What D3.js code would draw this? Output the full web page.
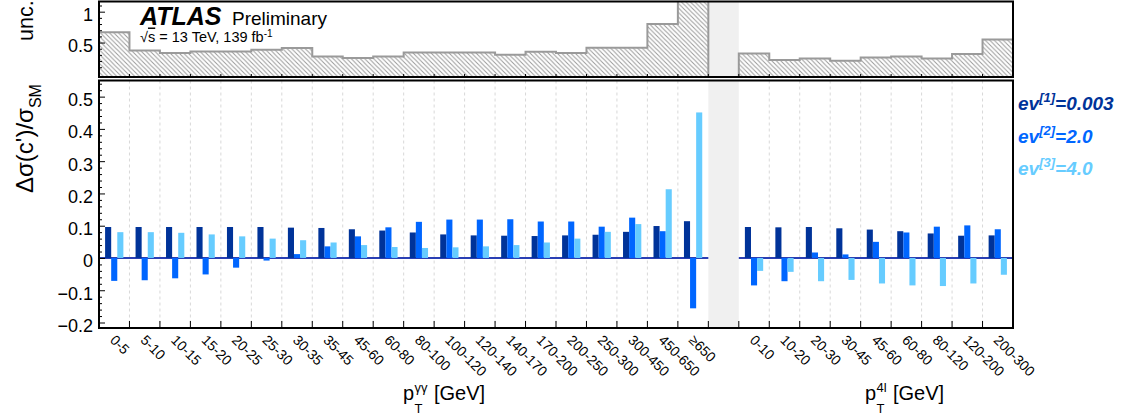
<!DOCTYPE html>
<html>
<head>
<meta charset="utf-8">
<script src="https://cdn.jsdelivr.net/npm/d3@7"></script>
<style>
  html, body { margin: 0; padding: 0; background: #fff; }
  svg { display: block; font-family: "Liberation Sans", Arial, Helvetica, sans-serif; }
</style>
</head>
<body>
<svg id="chart" width="1121" height="419"></svg>
<script>
// ---------------- data ----------------
const ggLabels = ["0-5","5-10","10-15","15-20","20-25","25-30","30-35","35-45","45-60","60-80","80-100","100-120","120-140","140-170","170-200","200-250","250-300","300-450","450-650","≥650"];
const llLabels = ["0-10","10-20","20-30","30-45","45-60","60-80","80-120","120-200","200-300"];

const seriesNames = ["ev^[1]=0.003", "ev^[2]=2.0", "ev^[3]=4.0"];
const seriesColors = ["#003399", "#0066ff", "#66ccff"];

const ev1_gg = [0.096,0.096,0.096,0.096,0.096,0.096,0.094,0.093,0.089,0.085,0.079,0.073,0.070,0.069,0.068,0.070,0.072,0.081,0.099,0.114];
const ev2_gg = [-0.071,-0.069,-0.063,-0.051,-0.030,-0.008,0.012,0.036,0.067,0.095,0.112,0.119,0.119,0.120,0.113,0.113,0.097,0.125,0.083,-0.156];
const ev3_gg = [0.080,0.080,0.078,0.073,0.067,0.060,0.055,0.048,0.040,0.034,0.031,0.033,0.036,0.040,0.048,0.060,0.081,0.105,0.213,0.451];

const ev1_ll = [0.096,0.095,0.096,0.092,0.088,0.083,0.076,0.069,0.070];
const ev2_ll = [-0.085,-0.072,0.017,0.011,0.050,0.079,0.097,0.101,0.089];
const ev3_ll = [-0.040,-0.043,-0.072,-0.068,-0.079,-0.085,-0.087,-0.079,-0.052];

const unc_gg = [0.668,0.371,0.329,0.355,0.355,0.382,0.410,0.274,0.248,0.274,0.339,0.339,0.339,0.302,0.350,0.329,0.415,0.415,0.800,1.300];
const unc_ll = [0.323,0.216,0.242,0.205,0.258,0.274,0.242,0.313,0.548];

const mainTicks = [-0.2,-0.1,0,0.1,0.2,0.3,0.4,0.5];
const uncTicks = [0.5, 1];

// ---------------- layout ----------------
const svg = d3.select("#chart");
const L = 99, R = 1013;
const mainTop = 80.5, mainBot = 328;
const topTop = 1.5, topBot = 77;
const FONT = "'Liberation Sans', Arial, Helvetica, sans-serif";

const ggKeys = ggLabels.map((d,i)=>"gg"+i);
const llKeys = llLabels.map((d,i)=>"ll"+i);
const keys = [...ggKeys, "gap", ...llKeys];

const x = d3.scaleBand().domain(keys).range([L, R]).paddingInner(0).paddingOuter(0);
const bw = x.bandwidth();
const sub = d3.scaleBand().domain([0,1,2]).range([0.2*bw, 0.8*bw]).padding(0);

const yMain = d3.scaleLinear().domain([-0.217, 0.55]).range([mainBot, mainTop]);
const yTop = d3.scaleLinear().domain([-0.058, 1.165]).range([topBot, topTop]);

// hatch pattern
const defs = svg.append("defs");
const pat = defs.append("pattern").attr("id","hatch").attr("patternUnits","userSpaceOnUse")
  .attr("width",4.5).attr("height",4.5);
pat.append("path").attr("d","M0,0 L4.5,4.5 M-1,3.5 L1,5.5 M3.5,-1 L5.5,1")
  .attr("stroke","#9a9a9a").attr("stroke-width",1);
defs.append("clipPath").attr("id","clipTop").append("rect")
  .attr("x",L).attr("y",topTop).attr("width",R-L).attr("height",topBot-topTop);
defs.append("clipPath").attr("id","clipMain").append("rect")
  .attr("x",L).attr("y",mainTop).attr("width",R-L).attr("height",mainBot-mainTop);

// gap band
[[topTop, topBot],[mainTop, mainBot]].forEach(([a,b])=>{
  svg.append("rect").attr("x",x("gap")).attr("y",a).attr("width",bw).attr("height",b-a).attr("fill","#f0f0f0");
});

// ---------------- top panel (uncertainty) ----------------
function stepArea(keysArr, vals){
  const pts = vals.map((v,i)=>({x:x(keysArr[i]), v}));
  pts.push({x:x(keysArr[keysArr.length-1])+bw, v:vals[vals.length-1]});
  return pts;
}
const area = d3.area().curve(d3.curveStepAfter).x(d=>d.x).y0(topBot).y1(d=>yTop(d.v));
const gTop = svg.append("g").attr("clip-path","url(#clipTop)");
[[ggKeys, unc_gg],[llKeys, unc_ll]].forEach(([k,v])=>{
  gTop.append("path").datum(stepArea(k,v)).attr("d",area)
    .attr("fill","url(#hatch)").attr("stroke","#9a9a9a").attr("stroke-width",2);
});

// ---------------- main panel ----------------
const gMain = svg.append("g").attr("clip-path","url(#clipMain)");
const bounds = keys.map(k=>x(k)).slice(1);
gMain.selectAll("line.grid").data(bounds.filter(b=>Math.abs(b-x("gap"))>1 && Math.abs(b-(x("gap")+bw))>1))
  .enter().append("line").attr("class","grid")
  .attr("x1",d=>d).attr("x2",d=>d).attr("y1",mainTop).attr("y2",mainBot)
  .attr("stroke","#d8d8d8").attr("stroke-width",1).attr("stroke-dasharray","3,3");

[[ggKeys[0], ggKeys[ggKeys.length-1]],[llKeys[0], llKeys[llKeys.length-1]]].forEach(([a,b])=>{
  gMain.append("line").attr("x1",x(a)).attr("x2",x(b)+bw).attr("y1",yMain(0)).attr("y2",yMain(0))
    .attr("stroke","#2a3fb4").attr("stroke-width",2);
});

const barData = [];
[[ggKeys,[ev1_gg,ev2_gg,ev3_gg]],[llKeys,[ev1_ll,ev2_ll,ev3_ll]]].forEach(([k,arrs])=>{
  arrs.forEach((arr,s)=>arr.forEach((v,i)=>barData.push({key:k[i], s, v})));
});
gMain.selectAll("rect.bar").data(barData).enter().append("rect").attr("class","bar")
  .attr("x",d=>x(d.key)+sub(d.s))
  .attr("width",sub.bandwidth())
  .attr("y",d=>Math.min(yMain(d.v), yMain(0)))
  .attr("height",d=>Math.abs(yMain(d.v)-yMain(0)))
  .attr("fill",d=>seriesColors[d.s]);

// ---------------- axes ----------------
const fmtMain = d => d===0 ? "0" : d3.format(".1f")(d);
const fmtTop = d => d3.format("~g")(d);
function yAxis(scale, major, minor, fontSize, fmt){
  const g1 = svg.append("g").attr("transform",`translate(${L},0)`)
    .call(d3.axisLeft(scale).tickValues(minor).tickSize(-3).tickFormat(""));
  g1.select(".domain").remove();
  g1.selectAll("line").attr("stroke","#000").attr("stroke-width",1);
  const g2 = svg.append("g").attr("transform",`translate(${L},0)`)
    .call(d3.axisLeft(scale).tickValues(major).tickSize(-6).tickPadding(6).tickFormat(fmt));
  g2.select(".domain").remove();
  g2.selectAll("line").attr("stroke","#000").attr("stroke-width",1);
  g2.selectAll("text").attr("font-size",fontSize).attr("font-family",FONT).attr("fill","#000")
    .attr("dy","0.5em");
}
const minorMain = d3.range(-0.2, 0.5401, 0.02).map(v=>+v.toFixed(2)).filter(v=>Math.round(v*100)%10!==0);
yAxis(yMain, mainTicks, minorMain, 18, fmtMain);
const minorTop = d3.range(0, 1.1501, 0.1).map(v=>+v.toFixed(2)).filter(v=>Math.round(v*100)%50!==0);
yAxis(yTop, uncTicks, minorTop, 18, fmtTop);

// x ticks at bin boundaries
const allBounds = keys.map(k=>x(k)).concat([R]);
svg.selectAll("line.xt").data(allBounds.slice(1,-1)).enter().append("line")
  .attr("x1",d=>d).attr("x2",d=>d).attr("y1",mainBot).attr("y2",mainBot-7)
  .attr("stroke","#000").attr("stroke-width",1);
svg.selectAll("line.xt2").data(allBounds.slice(1,-1)).enter().append("line")
  .attr("x1",d=>d).attr("x2",d=>d).attr("y1",topBot).attr("y2",topBot-3)
  .attr("stroke","#000").attr("stroke-width",1);

// frames
[[topTop, topBot],[mainTop, mainBot]].forEach(([a,b])=>{
  svg.append("rect").attr("x",L).attr("y",a).attr("width",R-L).attr("height",b-a)
    .attr("fill","none").attr("stroke","#000").attr("stroke-width",2);
});

// x tick labels (rotated)
const xl = svg.append("g").attr("font-family",FONT).attr("font-size",14).attr("fill","#000");
[[ggKeys, ggLabels],[llKeys, llLabels]].forEach(([k,labs])=>{
  xl.selectAll(null).data(labs.map((t,i)=>({t, key:k[i]}))).enter().append("text")
    .attr("transform",d=>`translate(${x(d.key)+bw/2-5},${341}) rotate(45)`)
    .attr("text-anchor","start").text(d=>d.t);
});

// axis titles
function ptTitle(x0, sup, gevOffset){
  const g = svg.append("g").attr("font-family",FONT).attr("fill","#000");
  g.append("text").attr("x",x0).attr("y",400).attr("font-size",20).text("p");
  g.append("text").attr("x",x0+11.5).attr("y",413).attr("font-size",13).text("T");
  g.append("text").attr("x",x0+11.5).attr("y",392).attr("font-size",13).text(sup);
  g.append("text").attr("x",x0+gevOffset).attr("y",400).attr("font-size",20).text("[GeV]");
}
ptTitle(403, "γγ", 31);
ptTitle(865, "4l", 28);

// y titles
const yt = svg.append("text").attr("transform","translate(33,193) rotate(-90)")
  .attr("font-family",FONT).attr("font-size",24).attr("fill","#000");
yt.append("tspan").text("Δσ(c')/σ");
yt.append("tspan").attr("font-size",16).attr("dy",8).text("SM");

svg.append("text").attr("transform","translate(33,41) rotate(-90)")
  .attr("font-family",FONT).attr("font-size",21.5).attr("fill","#000").text("unc.");

// ATLAS label
svg.append("text").attr("x",140).attr("y",25).attr("font-family",FONT).attr("font-size",25)
  .attr("font-weight","bold").attr("font-style","italic").text("ATLAS");
svg.append("text").attr("x",232).attr("y",24.5).attr("font-family",FONT).attr("font-size",19)
  .text("Preliminary");
const en = svg.append("text").attr("x",140).attr("y",41.5).attr("font-family",FONT).attr("font-size",14.5);
en.append("tspan").text("√");
en.append("tspan").attr("text-decoration","overline").text("s");
en.append("tspan").text(" = 13 TeV, 139 fb");
en.append("tspan").attr("font-size",10).attr("dy",-5).text("-1");

// legend
const legY = [110, 142.5, 174.5];
seriesNames.forEach((n,i)=>{
  const m = n.match(/^ev\^(\[\d\])(=.*)$/);
  const t = svg.append("text").attr("x",1018).attr("y",legY[i]).attr("font-family",FONT)
    .attr("font-size",19).attr("font-weight","bold").attr("font-style","italic").attr("fill",seriesColors[i]);
  t.append("tspan").text("ev");
  t.append("tspan").attr("font-size",13).attr("dy",-8).text(m[1]);
  t.append("tspan").attr("dy",8).text(m[2]);
});
</script>
</body>
</html>
